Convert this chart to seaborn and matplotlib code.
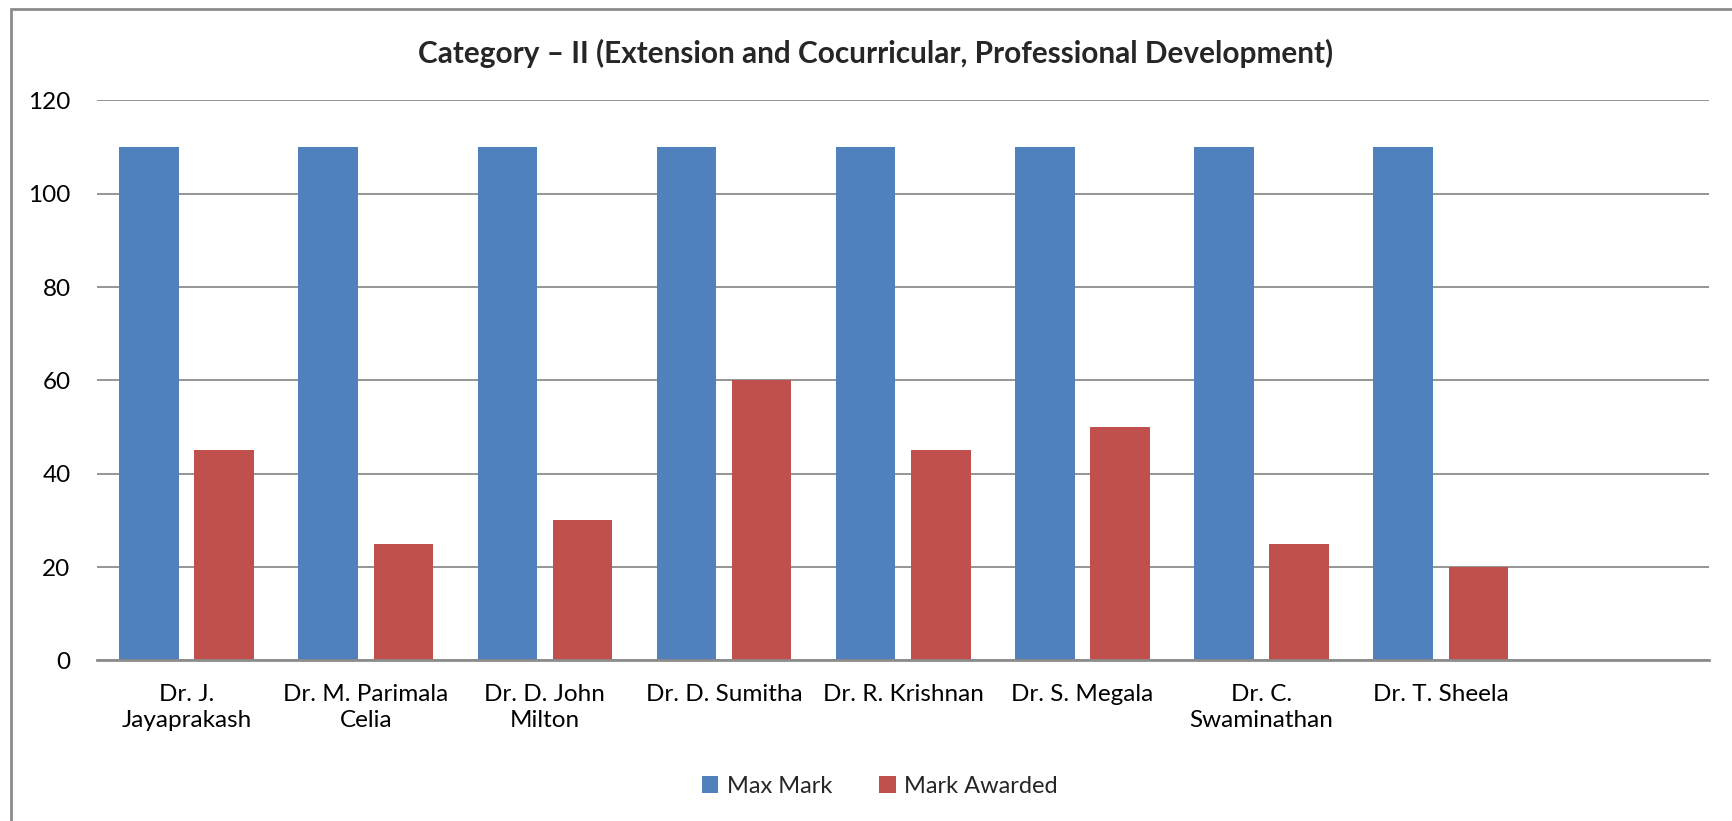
import numpy as np
import pandas as pd
import seaborn as sns
import matplotlib.pyplot as plt
from matplotlib.patches import Rectangle

# data
names = ["Dr. J.\nJayaprakash", "Dr. M. Parimala\nCelia", "Dr. D. John\nMilton",
         "Dr. D. Sumitha", "Dr. R. Krishnan", "Dr. S. Megala",
         "Dr. C.\nSwaminathan", "Dr. T. Sheela"]
max_mark = [110, 110, 110, 110, 110, 110, 110, 110]
mark_awarded = [45, 25, 30, 60, 45, 50, 25, 20]
series = ["Max Mark", "Mark Awarded"]
colors = ["#4F81BD", "#C0504D"]

df = pd.DataFrame({
    "name": names * 2,
    "value": max_mark + mark_awarded,
    "series": [series[0]] * len(names) + [series[1]] * len(names),
})
order = names + [""]  # the chart keeps one empty slot at the end

sns.set_style("white")
plt.rcParams['font.family'] = ['Lato', 'DejaVu Sans']

fig = plt.figure(figsize=(17.32, 8.21), dpi=100)
ax = fig.add_axes([0.056, 0.1955, 0.931, 0.6821])

sns.barplot(data=df, x="name", y="value", hue="series", order=order,
            hue_order=series, palette=colors, width=0.84, gap=0.21,
            saturation=1, ax=ax, linewidth=0)

ax.set_ylim(0, 120)
ax.set_yticks(range(0, 121, 20))
ax.set_xlim(-0.5, len(order) - 0.5)
ax.yaxis.grid(True, color="#8c8c8c", linewidth=1.3)
ax.set_axisbelow(True)
for s in ["top", "right", "left"]:
    ax.spines[s].set_visible(False)
ax.spines["bottom"].set_color("#8c8c8c")
ax.spines["bottom"].set_linewidth(2)
ax.tick_params(axis="both", length=0, labelsize=17.5, colors="black")
ax.tick_params(axis="x", pad=17)
ax.tick_params(axis="y", pad=19)
for lab in ax.get_xticklabels():
    lab.set_linespacing(1.3)
ax.set_xlabel("")
ax.set_ylabel("")

# title is centred on the whole chart, not the plot area
ax.set_title("Category – II (Extension and Cocurricular, Professional Development)",
             fontsize=21.4, fontweight="bold", pad=27, x=0.483)

handles, labels = ax.get_legend_handles_labels()
ax.legend(handles, labels, loc="center", bbox_to_anchor=(0.508, 0.042),
          bbox_transform=fig.transFigure, ncol=2, frameon=False, fontsize=17,
          handlelength=0.7, handleheight=0.7, handletextpad=0.35,
          columnspacing=2.0)

# chart frame
fig.patches.append(Rectangle((11 / 1732, -0.1), 1.2, 1 - 9 / 821 + 0.1,
                             transform=fig.transFigure, fill=False,
                             edgecolor="#8c8c8c", linewidth=2))

fig.savefig("out.png", dpi=100)
